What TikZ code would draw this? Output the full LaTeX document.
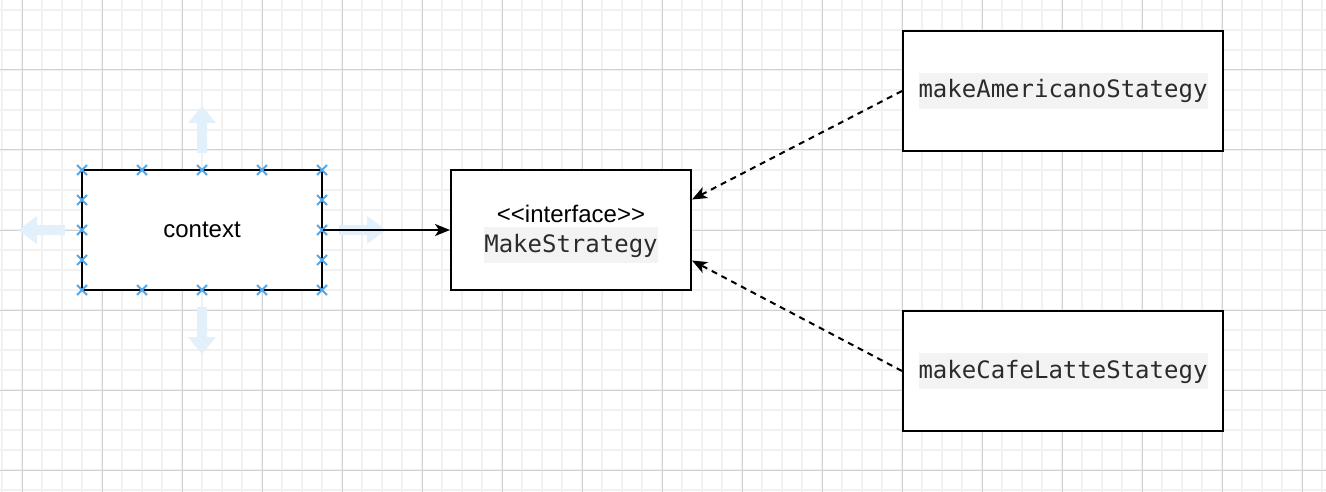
\documentclass[tikz,border=0pt]{standalone}
\usepackage{fontspec}
\setmainfont{Liberation Sans}
\newfontfamily\monof{DejaVu Sans Mono}
\usetikzlibrary{arrows.meta,calc}
\definecolor{gridminor}{HTML}{F1F1F1}
\definecolor{gridmajor}{HTML}{D2D2D2}
\definecolor{codebg}{HTML}{F3F3F3}
\definecolor{codefg}{HTML}{2B2B2B}
\definecolor{selblue}{HTML}{52A8EA}
\definecolor{hoverblue}{HTML}{E2F0FB}
\newcommand{\codetxt}[1]{{\setlength{\fboxsep}{0pt}\colorbox{codebg}{\rule[-11pt]{0pt}{36pt}\monof\color{codefg}#1}}}
\tikzset{
  umlbox/.style={draw=black, line width=2pt, fill=white, minimum width=240pt, minimum height=120pt, inner sep=0pt, align=center, font=\fontsize{24}{30}\selectfont},
  conn/.style={line width=2pt, -{Stealth[length=15pt,width=12pt,inset=4pt]}},
  dconn/.style={conn, dash pattern=on 6pt off 5pt},
  selmark/.style={draw=selblue, line width=1.8pt},
  hoverarrow/.style={fill=hoverblue, draw=none}
}
\begin{document}
\begin{tikzpicture}[x=1pt,y=-1pt]
\useasboundingbox (0,0) rectangle (1326,492);
\fill[white] (0,0) rectangle (1326,492);
% grid
\foreach \gx in {2,22,...,1322} \draw[gridminor, line width=2pt] (\gx,0) -- (\gx,492);
\foreach \gy in {10,30,...,490} \draw[gridminor, line width=2pt] (0,\gy) -- (1326,\gy);
\foreach \gx in {22,102,...,1302} \draw[gridmajor, line width=1pt] (\gx,0) -- (\gx,492);
\foreach \gy in {70,150,...,470} \draw[gridmajor, line width=1pt] (0,\gy) -- (1326,\gy);
% hover arrows around context
\fill[hoverarrow] (197,153) -- (197,123) -- (188,123) -- (202,106) -- (216,123) -- (207,123) -- (207,153) -- cycle;
\fill[hoverarrow] (197,307) -- (197,337) -- (188,337) -- (202,354) -- (216,337) -- (207,337) -- (207,307) -- cycle;
\fill[hoverarrow] (65,225) -- (37,225) -- (37,216) -- (18,230) -- (37,244) -- (37,235) -- (65,235) -- cycle;
\fill[hoverarrow] (339,225) -- (367,225) -- (367,216) -- (386,230) -- (367,244) -- (367,235) -- (339,235) -- cycle;
% nodes
\node[umlbox] (ctx) at (202,230) {context};
\node[umlbox] (iface) at (571,230) {\rule{0pt}{25pt}<\kern0pt<interface>\kern0pt>\\\codetxt{MakeStrategy}};
\node[umlbox, minimum width=320pt] (amer) at (1063,91) {\codetxt{makeAmericanoStategy}};
\node[umlbox, minimum width=320pt] (latte) at (1063,371) {\codetxt{makeCafeLatteStategy}};
% selection markers on context
\foreach \mx/\my in {82/170,142/170,202/170,262/170,322/170,82/290,142/290,202/290,262/290,322/290,82/200,82/230,82/260,322/200,322/230,322/260}
  \draw[selmark] (\mx-5,\my-5) -- (\mx+5,\my+5) (\mx-5,\my+5) -- (\mx+5,\my-5);
% connectors
\coordinate (ifaceT) at ($(iface.north east)!0.25!(iface.south east)$);
\coordinate (ifaceB) at ($(iface.north east)!0.75!(iface.south east)$);
\draw[conn] (ctx.east) -- (iface.west);
\draw[dconn] (amer.west) -- (ifaceT);
\draw[dconn] (latte.west) -- (ifaceB);
\end{tikzpicture}
\end{document}
